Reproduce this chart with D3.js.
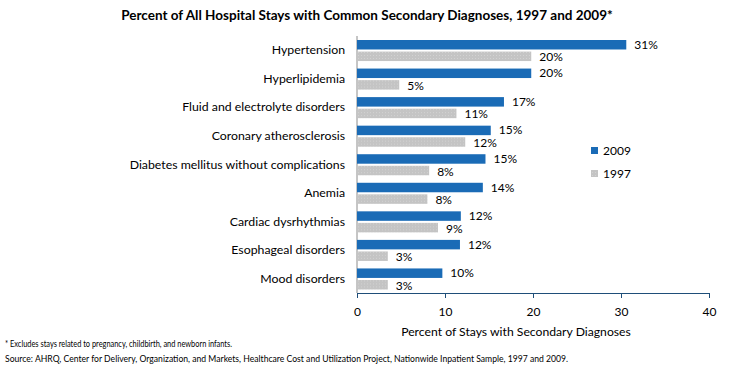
<!DOCTYPE html>
<html>
<head>
<meta charset="utf-8">
<script src="https://cdn.jsdelivr.net/npm/d3@7"></script>
<style>
  body { margin: 0; background: #fff; }
  text { font-family: Lato, "Open Sans", sans-serif; fill: #000; }
</style>
</head>
<body>
<div class="chart"></div>
<script>
var categories = ['Hypertension', 'Hyperlipidemia', 'Fluid and electrolyte disorders',
  'Coronary atherosclerosis', 'Diabetes mellitus without complications', 'Anemia',
  'Cardiac dysrhythmias', 'Esophageal disorders', 'Mood disorders'];
var values2009 = [30.6, 19.8, 16.7, 15.2, 14.6, 14.3, 11.8, 11.7, 9.7];
var values1997 = [19.8, 4.8, 11.3, 12.3, 8.2, 8.0, 9.2, 3.5, 3.5];
var labels2009 = ['31%', '20%', '17%', '15%', '15%', '14%', '12%', '12%', '10%'];
var labels1997 = ['20%', '5%', '11%', '12%', '8%', '8%', '9%', '3%', '3%'];
var xTicks = [0, 10, 20, 30, 40];
var seriesNames = ['2009', '1997'];

var W = 731, H = 371;
var margin = { top: 36, right: 22, bottom: 78, left: 357 };
var width = W - margin.left - margin.right;
var height = H - margin.top - margin.bottom;

var blue = '#1a6bb6', grey = '#c4c4c4';

var root = d3.select('.chart')
  .append('svg')
    .attr('width', W)
    .attr('height', H);

var defs = root.append('defs');
var pat = defs.append('pattern')
  .attr('id', 'dots')
  .attr('width', 3).attr('height', 3)
  .attr('patternUnits', 'userSpaceOnUse');
pat.append('rect').attr('width', 3).attr('height', 3).attr('fill', grey);
pat.append('rect').attr('x', 1).attr('y', 1).attr('width', 1).attr('height', 1).attr('fill', '#d2d2d2');

root.append('text')
  .attr('x', 367).attr('y', 20)
  .attr('text-anchor', 'middle')
  .style('font-size', '13.5px')
  .style('font-weight', 'bold')
  .text('Percent of All Hospital Stays with Common Secondary Diagnoses, 1997 and 2009*');

var svg = root.append('g')
  .attr('transform', `translate(${margin.left}, ${margin.top})`);

var xScale = d3.scaleLinear()
  .domain([0, 40])
  .range([0, width]);

var yScale = d3.scaleBand()
  .domain(categories)
  .range([0, height]);

var inner = d3.scaleBand()
  .domain(seriesNames)
  .range([4, yScale.bandwidth() - 3.5])
  .paddingInner(0.18);

// left axis line
svg.append('line')
  .attr('x1', 0).attr('x2', 0)
  .attr('y1', 0).attr('y2', height)
  .attr('stroke', '#8c8c8c');

// category labels
svg.selectAll('.cat')
  .data(categories)
  .enter()
  .append('text')
  .attr('class', 'cat')
  .attr('x', -12)
  .attr('y', d => yScale(d) + yScale.bandwidth() / 2 + 4)
  .attr('text-anchor', 'end')
  .style('font-size', '12.3px')
  .text(d => d);

var rows = categories.map((c, i) => ({ cat: c, v09: values2009[i], v97: values1997[i], l09: labels2009[i], l97: labels1997[i] }));

var g = svg.selectAll('.row')
  .data(rows)
  .enter()
  .append('g')
  .attr('transform', d => `translate(0, ${yScale(d.cat)})`);

g.append('rect')
  .attr('x', 0)
  .attr('y', inner('2009'))
  .attr('width', d => xScale(d.v09))
  .attr('height', inner.bandwidth())
  .attr('fill', blue);

g.append('rect')
  .attr('x', 0)
  .attr('y', inner('1997'))
  .attr('width', d => xScale(d.v97))
  .attr('height', inner.bandwidth())
  .attr('fill', 'url(#dots)');

g.append('text')
  .attr('x', d => xScale(d.v09) + 8)
  .attr('y', inner('2009') + inner.bandwidth() / 2 + 4)
  .style('font-size', '12px')
  .text(d => d.l09);

g.append('text')
  .attr('x', d => xScale(d.v97) + 8)
  .attr('y', inner('1997') + inner.bandwidth() / 2 + 5)
  .style('font-size', '12px')
  .text(d => d.l97);

// x axis
var xAxis = d3.axisBottom(xScale)
  .tickValues(xTicks)
  .tickSize(5)
  .tickSizeOuter(5)
  .tickPadding(9);

var ax = svg.append('g')
  .attr('transform', `translate(0, ${height})`)
  .call(xAxis);
ax.select('.domain').attr('stroke', '#1f4e79');
ax.selectAll('.tick line').attr('stroke', '#1f4e79');
ax.selectAll('.tick text')
  .style('font-family', 'Lato, "Open Sans", sans-serif')
  .style('font-size', '12px')
  .attr('fill', '#000');

svg.append('text')
  .attr('x', 159)
  .attr('y', height + 43)
  .attr('text-anchor', 'middle')
  .style('font-size', '12.2px')
  .text('Percent of Stays with Secondary Diagnoses');

// legend
var legend = root.append('g').attr('transform', 'translate(591, 147)');
seriesNames.forEach((s, i) => {
  legend.append('rect')
    .attr('x', 0).attr('y', i * 23)
    .attr('width', 7).attr('height', 7)
    .attr('fill', i === 0 ? blue : 'url(#dots)');
  legend.append('text')
    .attr('x', 12).attr('y', i * 23 + 8)
    .style('font-size', '12px')
    .text(s);
});

// footnotes
root.append('text')
  .attr('x', 5).attr('y', 347)
  .attr('textLength', 227)
  .attr('lengthAdjust', 'spacingAndGlyphs')
  .style('font-size', '9.5px')
  .text('* Excludes stays related to pregnancy, childbirth, and newborn infants.');
root.append('text')
  .attr('x', 5).attr('y', 362)
  .attr('textLength', 563)
  .attr('lengthAdjust', 'spacingAndGlyphs')
  .style('font-size', '9.5px')
  .text('Source: AHRQ, Center for Delivery, Organization, and Markets, Healthcare Cost and Utilization Project, Nationwide Inpatient Sample, 1997 and 2009.');
</script>
</body>
</html>
